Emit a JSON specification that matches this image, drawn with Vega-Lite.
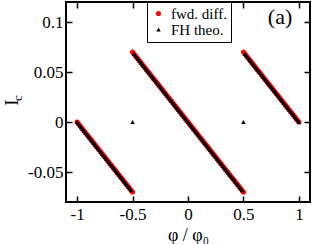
{
"$schema":"https://vega.github.io/schema/vega-lite/v6.json",
"width":244,"height":200,
"autosize":"none",
"padding":{"left":66,"top":2,"right":2,"bottom":42},
"config":{
"view":{"stroke":"black","strokeWidth":2},
"font":"Liberation Serif",
"axis":{"domain":false,"grid":false,"tickColor":"black","tickWidth":1.5,"tickSize":-6,"labelColor":"black","labelFont":"Liberation Serif","labelFontSize":17,"titleFont":"Liberation Serif","titleColor":"black","titleFontWeight":"normal"}
},
"resolve":{"axis":{"x":"independent","y":"independent"}},
"layer":[
{
"data":{"values":[
{"x":-1,"fwd":0,"fh":0},
{"x":-0.9875,"fwd":-0.00175,"fh":-0.00175},
{"x":-0.975,"fwd":-0.0035,"fh":-0.0035},
{"x":-0.9625,"fwd":-0.00525,"fh":-0.00525},
{"x":-0.95,"fwd":-0.007,"fh":-0.007},
{"x":-0.9375,"fwd":-0.00875,"fh":-0.00875},
{"x":-0.925,"fwd":-0.0105,"fh":-0.0105},
{"x":-0.9125,"fwd":-0.01225,"fh":-0.01225},
{"x":-0.9,"fwd":-0.014,"fh":-0.014},
{"x":-0.8875,"fwd":-0.01575,"fh":-0.01575},
{"x":-0.875,"fwd":-0.0175,"fh":-0.0175},
{"x":-0.8625,"fwd":-0.01925,"fh":-0.01925},
{"x":-0.85,"fwd":-0.021,"fh":-0.021},
{"x":-0.8375,"fwd":-0.02275,"fh":-0.02275},
{"x":-0.825,"fwd":-0.0245,"fh":-0.0245},
{"x":-0.8125,"fwd":-0.02625,"fh":-0.02625},
{"x":-0.8,"fwd":-0.028,"fh":-0.028},
{"x":-0.7875,"fwd":-0.02975,"fh":-0.02975},
{"x":-0.775,"fwd":-0.0315,"fh":-0.0315},
{"x":-0.7625,"fwd":-0.03325,"fh":-0.03325},
{"x":-0.75,"fwd":-0.035,"fh":-0.035},
{"x":-0.7375,"fwd":-0.03675,"fh":-0.03675},
{"x":-0.725,"fwd":-0.0385,"fh":-0.0385},
{"x":-0.7125,"fwd":-0.04025,"fh":-0.04025},
{"x":-0.7,"fwd":-0.042,"fh":-0.042},
{"x":-0.6875,"fwd":-0.04375,"fh":-0.04375},
{"x":-0.675,"fwd":-0.0455,"fh":-0.0455},
{"x":-0.6625,"fwd":-0.04725,"fh":-0.04725},
{"x":-0.65,"fwd":-0.049,"fh":-0.049},
{"x":-0.6375,"fwd":-0.05075,"fh":-0.05075},
{"x":-0.625,"fwd":-0.0525,"fh":-0.0525},
{"x":-0.6125,"fwd":-0.05425,"fh":-0.05425},
{"x":-0.6,"fwd":-0.056,"fh":-0.056},
{"x":-0.5875,"fwd":-0.05775,"fh":-0.05775},
{"x":-0.575,"fwd":-0.0595,"fh":-0.0595},
{"x":-0.5625,"fwd":-0.06125,"fh":-0.06125},
{"x":-0.55,"fwd":-0.063,"fh":-0.063},
{"x":-0.5375,"fwd":-0.06475,"fh":-0.06475},
{"x":-0.525,"fwd":-0.0665,"fh":-0.0665},
{"x":-0.5125,"fwd":-0.06825,"fh":-0.06825},
{"x":-0.5,"fwd":-0.07,"fh":null},
{"x":-0.5,"fwd":null,"fh":0},
{"x":-0.5,"fwd":0.07,"fh":null},
{"x":-0.4875,"fwd":0.06825,"fh":0.06825},
{"x":-0.475,"fwd":0.0665,"fh":0.0665},
{"x":-0.4625,"fwd":0.06475,"fh":0.06475},
{"x":-0.45,"fwd":0.063,"fh":0.063},
{"x":-0.4375,"fwd":0.06125,"fh":0.06125},
{"x":-0.425,"fwd":0.0595,"fh":0.0595},
{"x":-0.4125,"fwd":0.05775,"fh":0.05775},
{"x":-0.4,"fwd":0.056,"fh":0.056},
{"x":-0.3875,"fwd":0.05425,"fh":0.05425},
{"x":-0.375,"fwd":0.0525,"fh":0.0525},
{"x":-0.3625,"fwd":0.05075,"fh":0.05075},
{"x":-0.35,"fwd":0.049,"fh":0.049},
{"x":-0.3375,"fwd":0.04725,"fh":0.04725},
{"x":-0.325,"fwd":0.0455,"fh":0.0455},
{"x":-0.3125,"fwd":0.04375,"fh":0.04375},
{"x":-0.3,"fwd":0.042,"fh":0.042},
{"x":-0.2875,"fwd":0.04025,"fh":0.04025},
{"x":-0.275,"fwd":0.0385,"fh":0.0385},
{"x":-0.2625,"fwd":0.03675,"fh":0.03675},
{"x":-0.25,"fwd":0.035,"fh":0.035},
{"x":-0.2375,"fwd":0.03325,"fh":0.03325},
{"x":-0.225,"fwd":0.0315,"fh":0.0315},
{"x":-0.2125,"fwd":0.02975,"fh":0.02975},
{"x":-0.2,"fwd":0.028,"fh":0.028},
{"x":-0.1875,"fwd":0.02625,"fh":0.02625},
{"x":-0.175,"fwd":0.0245,"fh":0.0245},
{"x":-0.1625,"fwd":0.02275,"fh":0.02275},
{"x":-0.15,"fwd":0.021,"fh":0.021},
{"x":-0.1375,"fwd":0.01925,"fh":0.01925},
{"x":-0.125,"fwd":0.0175,"fh":0.0175},
{"x":-0.1125,"fwd":0.01575,"fh":0.01575},
{"x":-0.1,"fwd":0.014,"fh":0.014},
{"x":-0.0875,"fwd":0.01225,"fh":0.01225},
{"x":-0.075,"fwd":0.0105,"fh":0.0105},
{"x":-0.0625,"fwd":0.00875,"fh":0.00875},
{"x":-0.05,"fwd":0.007,"fh":0.007},
{"x":-0.0375,"fwd":0.00525,"fh":0.00525},
{"x":-0.025,"fwd":0.0035,"fh":0.0035},
{"x":-0.0125,"fwd":0.00175,"fh":0.00175},
{"x":0,"fwd":0,"fh":0},
{"x":0.0125,"fwd":-0.00175,"fh":-0.00175},
{"x":0.025,"fwd":-0.0035,"fh":-0.0035},
{"x":0.0375,"fwd":-0.00525,"fh":-0.00525},
{"x":0.05,"fwd":-0.007,"fh":-0.007},
{"x":0.0625,"fwd":-0.00875,"fh":-0.00875},
{"x":0.075,"fwd":-0.0105,"fh":-0.0105},
{"x":0.0875,"fwd":-0.01225,"fh":-0.01225},
{"x":0.1,"fwd":-0.014,"fh":-0.014},
{"x":0.1125,"fwd":-0.01575,"fh":-0.01575},
{"x":0.125,"fwd":-0.0175,"fh":-0.0175},
{"x":0.1375,"fwd":-0.01925,"fh":-0.01925},
{"x":0.15,"fwd":-0.021,"fh":-0.021},
{"x":0.1625,"fwd":-0.02275,"fh":-0.02275},
{"x":0.175,"fwd":-0.0245,"fh":-0.0245},
{"x":0.1875,"fwd":-0.02625,"fh":-0.02625},
{"x":0.2,"fwd":-0.028,"fh":-0.028},
{"x":0.2125,"fwd":-0.02975,"fh":-0.02975},
{"x":0.225,"fwd":-0.0315,"fh":-0.0315},
{"x":0.2375,"fwd":-0.03325,"fh":-0.03325},
{"x":0.25,"fwd":-0.035,"fh":-0.035},
{"x":0.2625,"fwd":-0.03675,"fh":-0.03675},
{"x":0.275,"fwd":-0.0385,"fh":-0.0385},
{"x":0.2875,"fwd":-0.04025,"fh":-0.04025},
{"x":0.3,"fwd":-0.042,"fh":-0.042},
{"x":0.3125,"fwd":-0.04375,"fh":-0.04375},
{"x":0.325,"fwd":-0.0455,"fh":-0.0455},
{"x":0.3375,"fwd":-0.04725,"fh":-0.04725},
{"x":0.35,"fwd":-0.049,"fh":-0.049},
{"x":0.3625,"fwd":-0.05075,"fh":-0.05075},
{"x":0.375,"fwd":-0.0525,"fh":-0.0525},
{"x":0.3875,"fwd":-0.05425,"fh":-0.05425},
{"x":0.4,"fwd":-0.056,"fh":-0.056},
{"x":0.4125,"fwd":-0.05775,"fh":-0.05775},
{"x":0.425,"fwd":-0.0595,"fh":-0.0595},
{"x":0.4375,"fwd":-0.06125,"fh":-0.06125},
{"x":0.45,"fwd":-0.063,"fh":-0.063},
{"x":0.4625,"fwd":-0.06475,"fh":-0.06475},
{"x":0.475,"fwd":-0.0665,"fh":-0.0665},
{"x":0.4875,"fwd":-0.06825,"fh":-0.06825},
{"x":0.5,"fwd":-0.07,"fh":null},
{"x":0.5,"fwd":null,"fh":0},
{"x":0.5,"fwd":0.07,"fh":null},
{"x":0.5125,"fwd":0.06825,"fh":0.06825},
{"x":0.525,"fwd":0.0665,"fh":0.0665},
{"x":0.5375,"fwd":0.06475,"fh":0.06475},
{"x":0.55,"fwd":0.063,"fh":0.063},
{"x":0.5625,"fwd":0.06125,"fh":0.06125},
{"x":0.575,"fwd":0.0595,"fh":0.0595},
{"x":0.5875,"fwd":0.05775,"fh":0.05775},
{"x":0.6,"fwd":0.056,"fh":0.056},
{"x":0.6125,"fwd":0.05425,"fh":0.05425},
{"x":0.625,"fwd":0.0525,"fh":0.0525},
{"x":0.6375,"fwd":0.05075,"fh":0.05075},
{"x":0.65,"fwd":0.049,"fh":0.049},
{"x":0.6625,"fwd":0.04725,"fh":0.04725},
{"x":0.675,"fwd":0.0455,"fh":0.0455},
{"x":0.6875,"fwd":0.04375,"fh":0.04375},
{"x":0.7,"fwd":0.042,"fh":0.042},
{"x":0.7125,"fwd":0.04025,"fh":0.04025},
{"x":0.725,"fwd":0.0385,"fh":0.0385},
{"x":0.7375,"fwd":0.03675,"fh":0.03675},
{"x":0.75,"fwd":0.035,"fh":0.035},
{"x":0.7625,"fwd":0.03325,"fh":0.03325},
{"x":0.775,"fwd":0.0315,"fh":0.0315},
{"x":0.7875,"fwd":0.02975,"fh":0.02975},
{"x":0.8,"fwd":0.028,"fh":0.028},
{"x":0.8125,"fwd":0.02625,"fh":0.02625},
{"x":0.825,"fwd":0.0245,"fh":0.0245},
{"x":0.8375,"fwd":0.02275,"fh":0.02275},
{"x":0.85,"fwd":0.021,"fh":0.021},
{"x":0.8625,"fwd":0.01925,"fh":0.01925},
{"x":0.875,"fwd":0.0175,"fh":0.0175},
{"x":0.8875,"fwd":0.01575,"fh":0.01575},
{"x":0.9,"fwd":0.014,"fh":0.014},
{"x":0.9125,"fwd":0.01225,"fh":0.01225},
{"x":0.925,"fwd":0.0105,"fh":0.0105},
{"x":0.9375,"fwd":0.00875,"fh":0.00875},
{"x":0.95,"fwd":0.007,"fh":0.007},
{"x":0.9625,"fwd":0.00525,"fh":0.00525},
{"x":0.975,"fwd":0.0035,"fh":0.0035},
{"x":0.9875,"fwd":0.00175,"fh":0.00175},
{"x":1,"fwd":0,"fh":0}
]},
"transform":[{"fold":["fwd","fh"]}],
"mark":{"type":"point","filled":true,"opacity":1},
"encoding":{
"x":{"field":"x","type":"quantitative","scale":{"domain":[-1.1,1.1],"nice":false,"zero":false},"axis":{"orient":"bottom","values":[-1,-0.5,0,0.5,1],"labelExpr":"toString(datum.value)","title":"φ / φ₀","titleFontSize":18,"titlePadding":4,"labelPadding":10}},
"y":{"field":"value","type":"quantitative","scale":{"domain":[-0.08,0.12],"nice":false,"zero":false},"axis":{"orient":"left","values":[-0.05,0,0.05,0.1],"labelExpr":"toString(datum.value)","title":"I","titleFontSize":19,"titlePadding":6,"labelPadding":9}},
"color":{"field":"key","type":"nominal","scale":{"domain":["fwd","fh"],"range":["#ff0000","#000000"]},"legend":{"title":null,"orient":"none","legendX":81,"legendY":0,"strokeColor":"black","fillColor":"white","padding":4,"labelFont":"Liberation Serif","labelFontSize":15,"labelColor":"black","symbolSize":22,"rowPadding":0,"labelOffset":5,"labelExpr":"datum.label == 'fwd' ? 'fwd. diff.' : 'FH theo.'"}},
"shape":{"field":"key","type":"nominal","scale":{"domain":["fwd","fh"],"range":["circle","triangle-up"]},"legend":{"title":null,"orient":"none","legendX":81,"legendY":0,"strokeColor":"black","fillColor":"white","padding":4,"labelFont":"Liberation Serif","labelFontSize":15,"labelColor":"black","symbolSize":22,"rowPadding":0,"labelOffset":5,"labelExpr":"datum.label == 'fwd' ? 'fwd. diff.' : 'FH theo.'"}},
"size":{"field":"key","type":"ordinal","scale":{"domain":["fwd","fh"],"range":[26,20]},"legend":null},
"order":{"field":"key","type":"ordinal","sort":"descending"}
}
},
{
"data":{"values":[{}]},
"mark":{"type":"text","fontSize":22,"font":"Liberation Serif","color":"black"},
"encoding":{
"x":{"datum":0.83,"type":"quantitative","axis":{"orient":"top","labels":false,"title":null,"values":[-1,-0.5,0,0.5,1]}},
"y":{"datum":0.105,"type":"quantitative","axis":{"orient":"right","labels":false,"title":null,"values":[-0.05,0,0.05,0.1]}},
"text":{"value":"(a)"}
}
},
{
"data":{"values":[{}]},
"mark":{"type":"text","fontSize":13,"font":"Liberation Serif","color":"black","angle":270},
"encoding":{
"x":{"datum":-1.533,"type":"quantitative","axis":null},
"y":{"datum":0.024,"type":"quantitative","axis":null},
"text":{"value":"c"}
}
}
]
}
